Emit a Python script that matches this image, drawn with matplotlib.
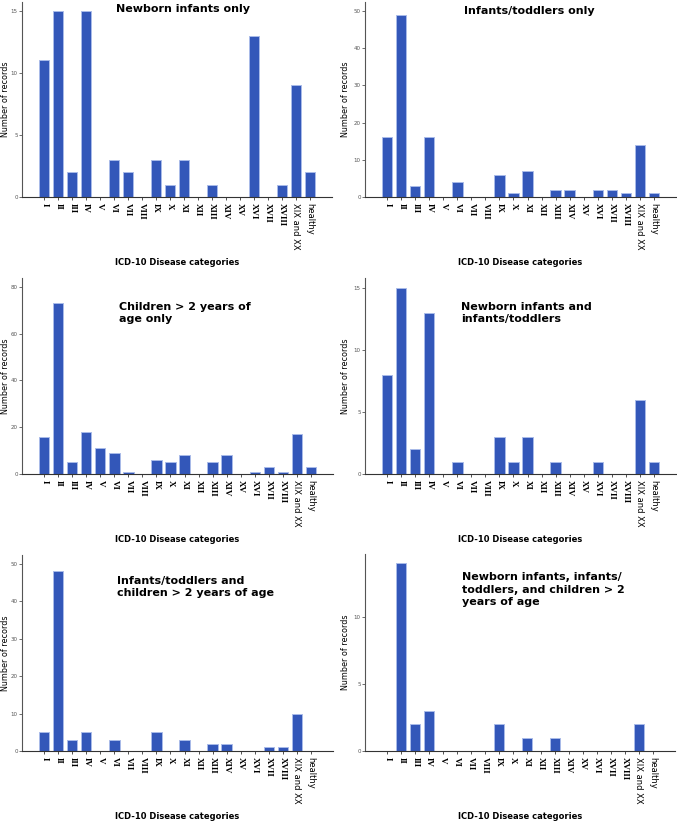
import numpy as np
import matplotlib
matplotlib.use("Agg")
import matplotlib.pyplot as plt

# ICD-10 kategori
categories = ["I", "II", "III", "IV", "V", "VI", "VII", "VIII", "IX", "X",
              "XI", "XII", "XIII", "XIV", "XV", "XVI", "XVII", "XVIII",
              "XIX and XX", "healthy"]

newborn_only = [11, 15, 2, 15, 0, 3, 2, 0, 3, 1, 3, 0, 1, 0, 0, 13, 0, 1, 9, 2]
toddlers_only = [16, 49, 3, 16, 0, 4, 0, 0, 6, 1, 7, 0, 2, 2, 0, 2, 2, 1, 14, 1]
children_only = [16, 73, 5, 18, 11, 9, 1, 0, 6, 5, 8, 0, 5, 8, 0, 1, 3, 1, 17, 3]
newborn_toddlers = [8, 15, 2, 13, 0, 1, 0, 0, 3, 1, 3, 0, 1, 0, 0, 1, 0, 0, 6, 1]
toddlers_children = [5, 48, 3, 5, 0, 3, 0, 0, 5, 0, 3, 0, 2, 2, 0, 0, 1, 1, 10, 0]
all_groups = [0, 14, 2, 3, 0, 0, 0, 0, 2, 0, 1, 0, 1, 0, 0, 0, 0, 0, 2, 0]

titles = ["Newborn infants only",
          "Infants/toddlers only",
          "Children > 2 years of\nage only",
          "Newborn infants and\ninfants/toddlers",
          "Infants/toddlers and\nchildren > 2 years of age",
          "Newborn infants, infants/\ntoddlers, and children > 2\nyears of age"]

W, H = 677, 821
fig = plt.figure(figsize=(W / 100, H / 100), dpi=100)


def px_axes(left, top, right, bottom):
    return fig.add_axes([left / W, 1 - bottom / H, (right - left) / W, (bottom - top) / H])


panels = [
    # data, box (left, top, right, bottom), ylim, ticks, title pos, title align
    (newborn_only, (22, 2, 332, 197), 15.7, [0, 5, 10, 15], (0.52, 0.965), "center"),
    (toddlers_only, (365, 2, 676, 197), 52.4, [0, 10, 20, 30, 40, 50], (0.527, 0.955), "center"),
    (children_only, (22, 278, 333, 474), 83.8, [0, 20, 40, 60, 80], (0.313, 0.878), "left"),
    (newborn_toddlers, (365, 278, 676, 474), 15.8, [0, 5, 10, 15], (0.309, 0.878), "left"),
    (toddlers_children, (22, 555, 333, 751), 52.4, [0, 10, 20, 30, 40, 50], (0.306, 0.893), "left"),
    (all_groups, (365, 554, 675, 751), 14.7, [0, 5, 10], (0.312, 0.908), "left"),
]

x = np.arange(len(categories))
for i, (vals, box, ytop, ticks, tpos, talign) in enumerate(panels):
    ax = px_axes(*box)
    ax.bar(x, vals, width=0.72, color="#3357b9", edgecolor="#a9bbe9", linewidth=0.7)
    ax.set_xlim(-1.6, len(categories) - 1 + 1.6)
    ax.set_ylim(0, ytop)
    ax.set_yticks(ticks)
    ax.tick_params(axis="y", labelsize=4, labelcolor="#555555", length=2, width=0.6,
                   color="#555555", pad=1)
    ax.set_xticks(x)
    ax.set_xticklabels(categories, rotation=-90, fontsize=6, fontweight="bold")
    for lab in ax.get_xticklabels():
        if lab.get_text() in ("XIX and XX", "healthy"):
            lab.set_family("DejaVu Sans")
            lab.set_fontweight("normal")
        else:
            lab.set_family("Liberation Serif")
            lab.set_fontsize(6.5)
    ax.tick_params(axis="x", length=2, width=0.6, color="#333333", pad=2)
    for s in ("top", "right"):
        ax.spines[s].set_visible(False)
    ax.spines["left"].set_color("#555555")
    ax.spines["left"].set_linewidth(0.8)
    ax.spines["bottom"].set_color("#333333")
    ax.spines["bottom"].set_linewidth(0.8)
    # y label placed by hand so it stays inside the figure
    lx = 6 if box[0] < 100 else 346
    ax.text((lx - box[0]) / (box[2] - box[0]), 0.5, "Number of records",
            transform=ax.transAxes, rotation=90, ha="center", va="center", fontsize=5.8)
    ax.text(0.5, -0.335, "ICD-10 Disease categories", transform=ax.transAxes,
            ha="center", va="center", fontsize=6, fontweight="bold")
    va = "center" if talign == "center" else "top"
    ax.text(tpos[0], tpos[1], titles[i], transform=ax.transAxes, ha=talign, va=va,
            fontsize=8, fontweight="bold", linespacing=1.3)

fig.savefig("out.png", dpi=100)
